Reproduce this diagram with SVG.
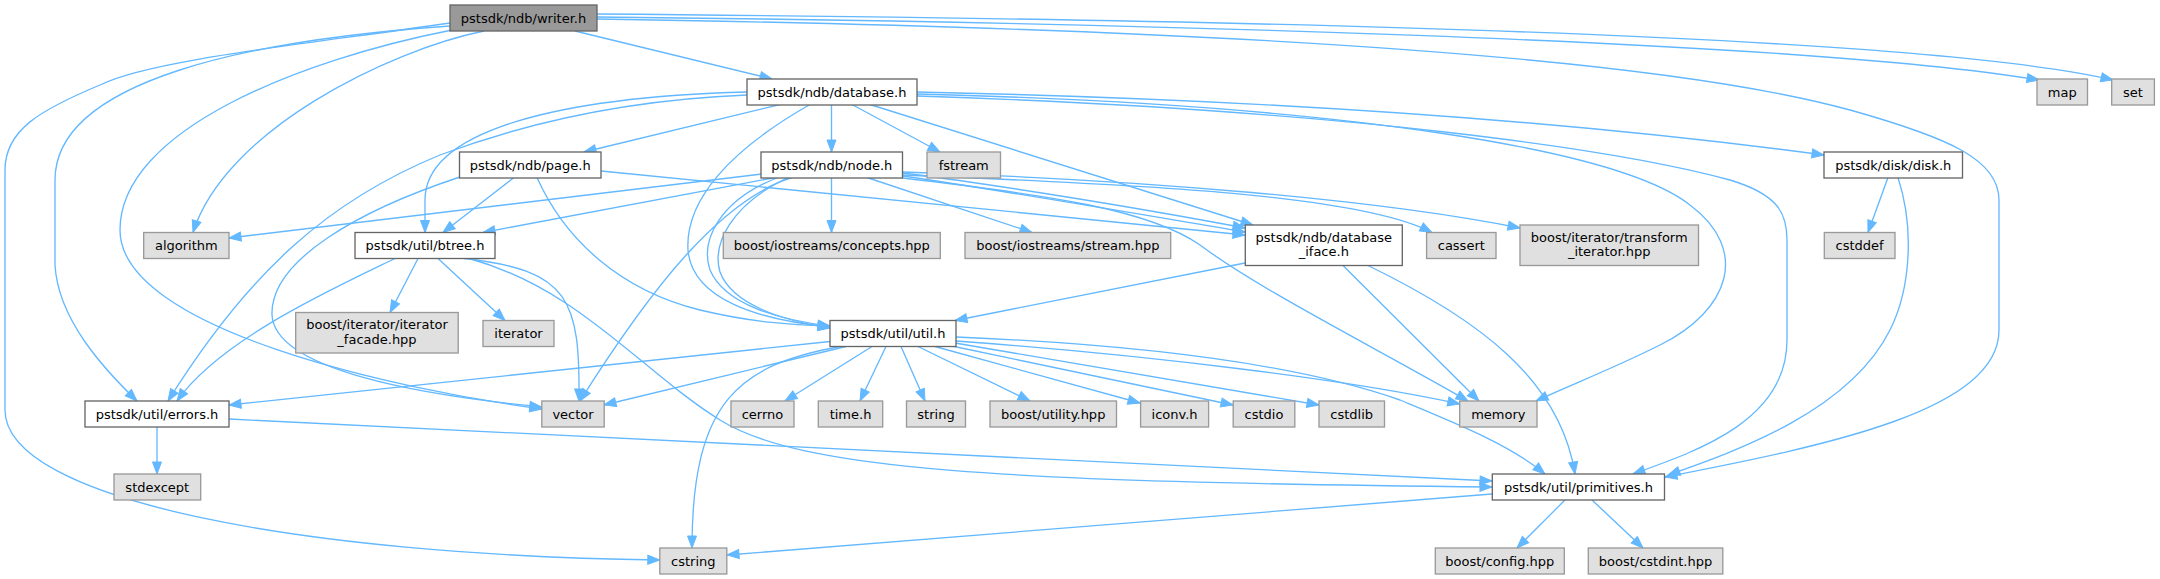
<svg xmlns="http://www.w3.org/2000/svg" width="2160" height="579" viewBox="0 0 2160 579">
<style>
.e{fill:none;stroke:#63b8ff;stroke-width:1.33;marker-end:url(#a)}
rect{stroke-width:1.33}
.doc rect{fill:#fff;stroke:#666}
.ext rect{fill:#e0e0e0;stroke:#999}
.root rect{fill:#999;stroke:#666}
text{font-family:"DejaVu Sans",sans-serif;font-size:13px;text-anchor:middle;fill:#000}
</style>
<defs>
<marker id="a" markerWidth="12" markerHeight="9" refX="12" refY="4.5" orient="auto" markerUnits="userSpaceOnUse" overflow="visible">
<path d="M0,0 L12,4.5 L0,9 z" fill="#63b8ff" stroke="#63b8ff" stroke-width="1"/>
</marker>
</defs>
<rect width="2160" height="579" fill="#fff"/>
<g id="edges">
<path class="e" d="M575,31 L772,79"/>
<path class="e" d="M484,31 C390,50 225,130 193,232.5"/>
<path class="e" d="M452,30 C300,60 120,130 120,230 C120,330 400,390 541.8,409"/>
<path class="e" d="M450,26 C250,40 55,80 55,180 L55,265 C58,320 105,370 137,401"/>
<path class="e" d="M450,23 C300,45 150,60 100,85 C40,110 5,130 5,170 L5,410 C5,500 300,555 659.8,560"/>
<path class="e" d="M597,17 C1100,22 1800,40 2039,80"/>
<path class="e" d="M597,14 C1100,18 1900,30 2113,80"/>
<path class="e" d="M597,19 C1200,28 1650,55 1850,110 C1950,138 1999,160 1999,200 L1999,330 C1999,410 1830,445 1665,477"/>
<path class="e" d="M782,104 L584,152"/>
<path class="e" d="M831.5,104.5 L831.5,152"/>
<path class="e" d="M852,104.5 L940,152"/>
<path class="e" d="M870,104.5 L1253,225"/>
<path class="e" d="M747,92 C560,97 425,130 425,200 L425,232.5"/>
<path class="e" d="M747,95 C620,100 520,125 440,155 C330,200 250,270 168,401"/>
<path class="e" d="M810,104.5 C730,150 685,200 688,250 C692,300 760,320 830,327"/>
<path class="e" d="M917,92 C1300,100 1600,125 1824,155"/>
<path class="e" d="M917,94 C1350,105 1620,150 1690,205 C1750,250 1730,310 1660,345 C1610,370 1570,385 1536,401"/>
<path class="e" d="M917,96 C1350,110 1620,150 1730,180 C1780,195 1787,215 1787,240 L1787,340 C1787,420 1700,450 1633,474"/>
<path class="e" d="M762,174 L229,238"/>
<path class="e" d="M775,177.5 L483,232.5"/>
<path class="e" d="M792,177.5 C720,200 650,290 580,401"/>
<path class="e" d="M778,177.5 C720,200 700,240 710,270 C725,305 780,320 830,326"/>
<path class="e" d="M788,177.5 C730,205 712,245 720,272 C732,305 785,321 830,328"/>
<path class="e" d="M831.5,177.5 L831.5,232.5"/>
<path class="e" d="M867,177.5 L1032,232.5"/>
<path class="e" d="M902.5,173 C1000,185 1150,210 1245,228"/>
<path class="e" d="M902.5,176 C1000,190 1150,216 1245,232"/>
<path class="e" d="M902.5,175 C1150,185 1360,195 1432,232.5"/>
<path class="e" d="M902.5,172 C1150,180 1380,200 1520,228"/>
<path class="e" d="M902.5,178 C1050,195 1150,210 1200,245 C1260,290 1380,350 1468,401"/>
<path class="e" d="M514,177.5 L443,232.5"/>
<path class="e" d="M537,177.5 C565,240 620,290 700,310 C750,322 790,325 830,326"/>
<path class="e" d="M460,177 C360,210 270,260 272,315 C275,370 420,395 541.8,407"/>
<path class="e" d="M601,171 L1245,235"/>
<path class="e" d="M395,258.5 C330,290 220,340 177,401"/>
<path class="e" d="M418,258.5 L390,312.5"/>
<path class="e" d="M438,258.5 L505,320.5"/>
<path class="e" d="M464,258.5 C570,270 580,300 579,401"/>
<path class="e" d="M471,259 C580,290 640,370 720,420 C800,470 1000,482 1492,487"/>
<path class="e" d="M229,419 L1492,481"/>
<path class="e" d="M157,427 L157,474"/>
<path class="e" d="M830,341.5 L229,405"/>
<path class="e" d="M846,346.5 L604,405"/>
<path class="e" d="M840,346.5 C740,365 692,400 692,548"/>
<path class="e" d="M872,346.5 L785,401"/>
<path class="e" d="M886,346.5 L860,401"/>
<path class="e" d="M901,346.5 L925,401"/>
<path class="e" d="M918,346.5 L1030,401"/>
<path class="e" d="M935,346.5 L1140,403"/>
<path class="e" d="M947,345 L1233,405"/>
<path class="e" d="M955,343 L1319,405"/>
<path class="e" d="M956,341 C1150,355 1350,380 1459.7,404"/>
<path class="e" d="M956,337 C1150,345 1300,365 1400,400 C1460,425 1510,445 1545,474"/>
<path class="e" d="M1245,263 L955,320.5"/>
<path class="e" d="M1343,265.5 L1479,401"/>
<path class="e" d="M1368,265.5 C1480,320 1560,380 1575,474"/>
<path class="e" d="M1888,177.5 L1868,232.5"/>
<path class="e" d="M1898,177.5 C1915,230 1910,290 1890,330 C1850,410 1740,450 1668,475"/>
<path class="e" d="M1492,494 L727,555"/>
<path class="e" d="M1565,500 L1517,548"/>
<path class="e" d="M1592,500 L1643,548"/>
</g>
<g id="n-writer" class="root"><rect x="450" y="5" width="147" height="26"/><text x="523.5" y="22.5">pstsdk/ndb/writer.h</text></g>
<g id="n-database" class="doc"><rect x="747" y="79" width="170" height="26"/><text x="832" y="96.5">pstsdk/ndb/database.h</text></g>
<g id="n-map" class="ext"><rect x="2037" y="79" width="50.5" height="26"/><text x="2062.2" y="96.5">map</text></g>
<g id="n-set" class="ext"><rect x="2111.7" y="79" width="42.7" height="26"/><text x="2133" y="96.5">set</text></g>
<g id="n-page" class="doc"><rect x="459.5" y="152" width="141.5" height="26"/><text x="530.2" y="169.5">pstsdk/ndb/page.h</text></g>
<g id="n-node" class="doc"><rect x="761" y="152" width="141.5" height="26"/><text x="831.8" y="169.5">pstsdk/ndb/node.h</text></g>
<g id="n-fstream" class="ext"><rect x="927" y="152" width="73.5" height="26"/><text x="963.7" y="169.5">fstream</text></g>
<g id="n-disk" class="doc"><rect x="1824" y="152" width="138.5" height="26"/><text x="1893.2" y="169.5">pstsdk/disk/disk.h</text></g>
<g id="n-algorithm" class="ext"><rect x="143.7" y="232.5" width="85.3" height="26"/><text x="186.3" y="250">algorithm</text></g>
<g id="n-btree" class="doc"><rect x="355" y="232.5" width="140" height="26"/><text x="425" y="250">pstsdk/util/btree.h</text></g>
<g id="n-concepts" class="ext"><rect x="723.3" y="232.5" width="217" height="26"/><text x="831.8" y="250">boost/iostreams/concepts.hpp</text></g>
<g id="n-stream" class="ext"><rect x="965" y="232.5" width="205.7" height="26"/><text x="1067.9" y="250">boost/iostreams/stream.hpp</text></g>
<g id="n-iface" class="doc"><rect x="1245.3" y="225" width="157" height="40.5"/><text x="1323.8" y="241.5">pstsdk/ndb/database</text><text x="1323.8" y="256">_iface.h</text></g>
<g id="n-cassert" class="ext"><rect x="1426.6" y="232.5" width="69.4" height="26"/><text x="1461.3" y="250">cassert</text></g>
<g id="n-transform" class="ext"><rect x="1520" y="225" width="178.5" height="40.5"/><text x="1609.2" y="241.5">boost/iterator/transform</text><text x="1609.2" y="256">_iterator.hpp</text></g>
<g id="n-cstddef" class="ext"><rect x="1824.3" y="232.5" width="70.7" height="26"/><text x="1859.6" y="250">cstddef</text></g>
<g id="n-facade" class="ext"><rect x="295.7" y="312.5" width="162.5" height="40.5"/><text x="377" y="329">boost/iterator/iterator</text><text x="377" y="343.5">_facade.hpp</text></g>
<g id="n-iterator" class="ext"><rect x="483" y="320.5" width="71" height="26"/><text x="518.5" y="338">iterator</text></g>
<g id="n-util" class="doc"><rect x="830" y="320.5" width="126" height="26"/><text x="893" y="338">pstsdk/util/util.h</text></g>
<g id="n-errors" class="doc"><rect x="85" y="401" width="144" height="26"/><text x="157" y="418.5">pstsdk/util/errors.h</text></g>
<g id="n-vector" class="ext"><rect x="541.8" y="401" width="62.4" height="26"/><text x="573" y="418.5">vector</text></g>
<g id="n-cerrno" class="ext"><rect x="731" y="401" width="63" height="26"/><text x="762.5" y="418.5">cerrno</text></g>
<g id="n-time" class="ext"><rect x="818.3" y="401" width="64.4" height="26"/><text x="850.5" y="418.5">time.h</text></g>
<g id="n-string" class="ext"><rect x="906.5" y="401" width="59" height="26"/><text x="936" y="418.5">string</text></g>
<g id="n-utility" class="ext"><rect x="990" y="401" width="126.5" height="26"/><text x="1053.2" y="418.5">boost/utility.hpp</text></g>
<g id="n-iconv" class="ext"><rect x="1140.6" y="401" width="68" height="26"/><text x="1174.6" y="418.5">iconv.h</text></g>
<g id="n-cstdio" class="ext"><rect x="1233.2" y="401" width="61.6" height="26"/><text x="1264" y="418.5">cstdio</text></g>
<g id="n-cstdlib" class="ext"><rect x="1319" y="401" width="65.5" height="26"/><text x="1351.7" y="418.5">cstdlib</text></g>
<g id="n-memory" class="ext"><rect x="1459.7" y="401" width="77.3" height="26"/><text x="1498.3" y="418.5">memory</text></g>
<g id="n-stdexcept" class="ext"><rect x="114" y="474" width="86.7" height="26"/><text x="157.3" y="491.5">stdexcept</text></g>
<g id="n-primitives" class="doc"><rect x="1492.3" y="474" width="172.2" height="26"/><text x="1578.4" y="491.5">pstsdk/util/primitives.h</text></g>
<g id="n-cstring" class="ext"><rect x="659.8" y="548" width="67" height="26"/><text x="693.3" y="565.5">cstring</text></g>
<g id="n-config" class="ext"><rect x="1435.3" y="548" width="129" height="26"/><text x="1499.8" y="565.5">boost/config.hpp</text></g>
<g id="n-cstdint" class="ext"><rect x="1588.3" y="548" width="134.5" height="26"/><text x="1655.5" y="565.5">boost/cstdint.hpp</text></g>
</svg>
